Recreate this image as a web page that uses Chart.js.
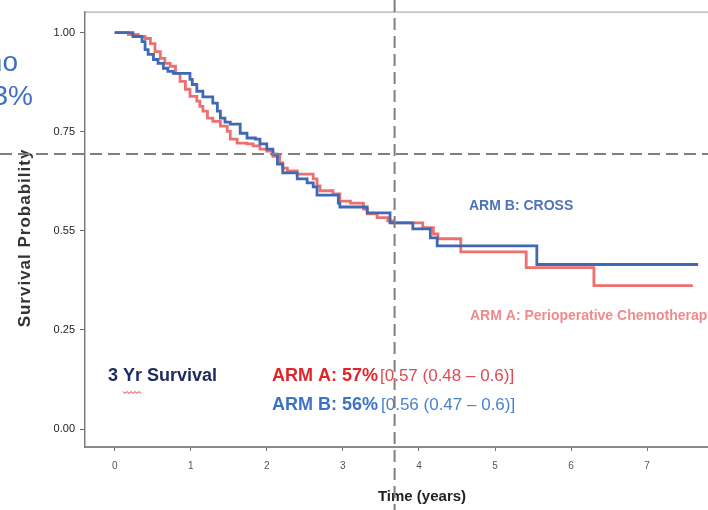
<!DOCTYPE html>
<html>
<head>
<meta charset="utf-8">
<script src="https://cdn.jsdelivr.net/npm/chart.js@4/dist/chart.umd.min.js"></script>
<style>
    html, body { margin: 0; padding: 0; background: #fff; }
    #wrap { width: 708px; height: 510px; }
</style>
</head>
<body>
<div id="wrap"><canvas id="kmChart" width="708" height="510"></canvas></div>
<script>
// Courbes de survie (Kaplan-Meier)
const armATimes = [0, 0.18, 0.31, 0.40, 0.47, 0.53, 0.60, 0.66, 0.73, 0.80, 0.86, 0.93, 0.99, 1.08, 1.12, 1.16, 1.22, 1.29, 1.39, 1.48, 1.52, 1.61, 1.74, 1.82, 1.91, 2.00, 2.08, 2.17, 2.21, 2.27, 2.40, 2.61, 2.66, 2.70, 2.87, 2.96, 3.10, 3.27, 3.32, 3.45, 3.59, 3.66, 4.05, 4.19, 4.25, 4.55, 5.41, 6.30, 7.60];
const armASurv  = [1.00, 0.995, 0.99, 0.985, 0.972, 0.952, 0.935, 0.922, 0.915, 0.897, 0.877, 0.857, 0.839, 0.827, 0.814, 0.802, 0.784, 0.776, 0.764, 0.751, 0.731, 0.721, 0.719, 0.714, 0.706, 0.701, 0.688, 0.671, 0.658, 0.651, 0.643, 0.631, 0.613, 0.601, 0.593, 0.575, 0.570, 0.555, 0.543, 0.533, 0.525, 0.520, 0.508, 0.492, 0.480, 0.447, 0.407, 0.362, 0.362];

const armBTimes = [0, 0.24, 0.36, 0.40, 0.44, 0.51, 0.57, 0.64, 0.70, 0.77, 0.99, 1.02, 1.08, 1.16, 1.29, 1.35, 1.39, 1.45, 1.52, 1.65, 1.74, 1.85, 1.91, 2.00, 2.08, 2.14, 2.21, 2.40, 2.53, 2.61, 2.66, 2.94, 2.96, 3.32, 3.62, 3.92, 4.15, 4.24, 5.55, 7.67];
const armBSurv  = [1.00, 0.990, 0.977, 0.957, 0.945, 0.932, 0.922, 0.910, 0.902, 0.897, 0.882, 0.869, 0.852, 0.838, 0.822, 0.802, 0.784, 0.774, 0.769, 0.746, 0.734, 0.731, 0.719, 0.706, 0.693, 0.668, 0.646, 0.631, 0.621, 0.611, 0.590, 0.570, 0.560, 0.545, 0.520, 0.505, 0.482, 0.462, 0.415, 0.415];

// Graduations
const xTicks = [0, 1, 2, 3, 4, 5, 6, 7];
const yTicks = [0, 0.25, 0.5, 0.75, 1];
const yTickLabels = ['0.00', '0.25', '0.55', '0.75', '1.00'];

// Lignes de repère pointillées
const refTime = 3.68;
const refSurv = 0.694;

const toPoints = (times, surv) => times.map((t, i) => ({ x: t, y: surv[i] }));

// Texte avec police et couleur
function drawText(ctx, text, x, y, font, color, align) {
    ctx.save();
    ctx.font = font;
    ctx.fillStyle = color;
    ctx.textAlign = align || 'left';
    ctx.textBaseline = 'middle';
    ctx.fillText(text, x, y);
    ctx.restore();
}

const overlayPlugin = {
    id: 'overlay',
    afterDraw(chart) {
        const ctx = chart.ctx;
        const area = chart.chartArea;
        const xs = chart.scales.x;
        const ys = chart.scales.y;

        // cadre du haut
        ctx.save();
        ctx.strokeStyle = '#9a9a9a';
        ctx.lineWidth = 1;
        ctx.beginPath();
        ctx.moveTo(area.left, area.top + 0.5);
        ctx.lineTo(area.right, area.top + 0.5);
        ctx.stroke();
        ctx.restore();

        // titres des axes
        ctx.save();
        ctx.translate(25, 238);
        ctx.rotate(-Math.PI / 2);
        ctx.font = 'bold 17px "Liberation Sans", Arial, sans-serif';
        ctx.letterSpacing = '1px';
        ctx.fillStyle = '#333';
        ctx.textAlign = 'center';
        ctx.textBaseline = 'middle';
        ctx.fillText('Survival Probability', 0, 0);
        ctx.restore();
        drawText(ctx, 'Time (years)', 422, 497, 'bold 15px "Liberation Sans", Arial, sans-serif', '#222', 'center');

        // étiquettes des bras
        drawText(ctx, 'ARM B: CROSS', 469, 206, 'bold 14px "Liberation Sans", Arial, sans-serif', '#4d74b9');
        drawText(ctx, 'ARM A: Perioperative Chemotherapy', 470, 316, 'bold 14px "Liberation Sans", Arial, sans-serif', '#f08b8b');

        // survie à 3 ans
        const big = 'bold 18px "Liberation Sans", Arial, sans-serif';
        const reg = '17px "Liberation Sans", Arial, sans-serif';
        drawText(ctx, '3 Yr Survival', 108, 376, big, '#1d2b5e');
        drawText(ctx, 'ARM A: 57%', 272, 376, big, '#e2252b');
        drawText(ctx, '[0.57 (0.48 \u2013 0.6)]', 380, 376, reg, '#e04a50');
        drawText(ctx, 'ARM B: 56%', 272, 405, big, '#3b74c6');
        drawText(ctx, '[0.56 (0.47 \u2013 0.6)]', 381, 405, reg, '#4a82cc');

        // soulignement ondulé sous "Yr"
        ctx.save();
        ctx.font = big;
        const x0 = 108 + ctx.measureText('3 ').width;
        const x1 = x0 + ctx.measureText('Yr').width;
        ctx.strokeStyle = '#e03030';
        ctx.lineWidth = 1;
        ctx.beginPath();
        for (let x = x0, k = 0; x <= x1; x += 2, k++) {
            const y = 392 + (k % 2 ? 1.5 : -0.5);
            if (k === 0) ctx.moveTo(x, y); else ctx.lineTo(x, y);
        }
        ctx.stroke();
        ctx.restore();

        // texte coupé à gauche
        drawText(ctx, 'no', 18, 63, '28px "Liberation Sans", Arial, sans-serif', '#3b70c2', 'right');
        drawText(ctx, '3%', 33, 97, '28px "Liberation Sans", Arial, sans-serif', '#3b70c2', 'right');

        // lignes de repère sur toute l'image
        const px = xs.getPixelForValue(refTime);
        const py = ys.getPixelForValue(refSurv);
        ctx.save();
        ctx.strokeStyle = '#7f7f7f';
        ctx.lineWidth = 2;
        ctx.setLineDash([12, 6]);
        ctx.beginPath();
        ctx.moveTo(0, py);
        ctx.lineTo(chart.width, py);
        ctx.moveTo(px, 0);
        ctx.lineTo(px, chart.height);
        ctx.stroke();
        ctx.restore();
    }
};

const ctx = document.getElementById('kmChart');
new Chart(ctx, {
    type: 'line',
    data: {
        datasets: [{
            label: 'ARM B: CROSS',
            data: toPoints(armBTimes, armBSurv),
            borderColor: '#3f69b4',
            borderWidth: 2.8,
            stepped: 'before',
            pointRadius: 0,
            fill: false
        }, {
            label: 'ARM A: Perioperative Chemotherapy',
            data: toPoints(armATimes, armASurv),
            borderColor: '#ee6f6f',
            borderWidth: 2.8,
            stepped: 'before',
            pointRadius: 0,
            fill: false
        }]
    },
    options: {
        responsive: false,
        animation: false,
        devicePixelRatio: 1,
        layout: { padding: { top: 10, right: 0, bottom: 0, left: 0 } },
        plugins: {
            legend: { display: false },
            tooltip: { enabled: false }
        },
        scales: {
            x: {
                type: 'linear',
                min: -0.39,
                max: 7.8,
                afterFit: scale => { scale.height = 63; },
                afterBuildTicks: scale => { scale.ticks = xTicks.map(v => ({ value: v })); },
                grid: { drawOnChartArea: false, drawTicks: true, tickLength: 4, color: '#777' },
                border: { display: true, color: '#8a8a8a', width: 2 },
                ticks: {
                    padding: 9,
                    color: '#555',
                    font: { family: '"Liberation Sans", Arial, sans-serif', size: 10 },
                    callback: v => String(v)
                }
            },
            y: {
                type: 'linear',
                min: -0.0452,
                max: 1.0528,
                afterFit: scale => { scale.width = 85; },
                afterBuildTicks: scale => { scale.ticks = yTicks.map(v => ({ value: v })); },
                grid: { drawOnChartArea: false, drawTicks: true, tickLength: 5, color: '#666' },
                border: { display: true, color: '#7a7a7a', width: 1.5 },
                ticks: {
                    padding: 5,
                    color: '#222',
                    font: { family: '"Liberation Sans", Arial, sans-serif', size: 11 },
                    callback: v => yTickLabels[yTicks.indexOf(v)]
                }
            }
        }
    },
    plugins: [overlayPlugin]
});
</script>
</body>
</html>
